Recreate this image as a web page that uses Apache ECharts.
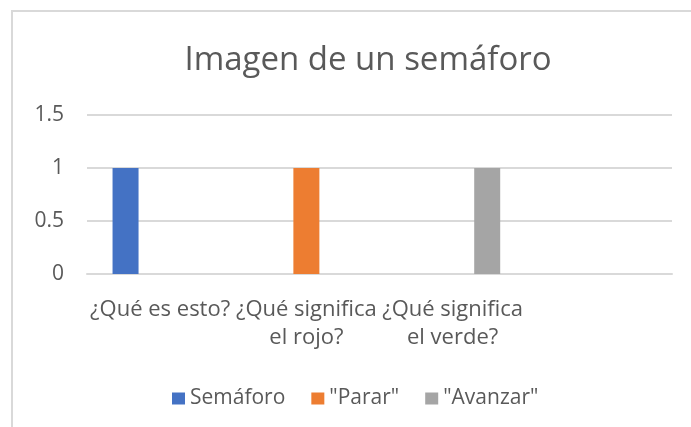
<!DOCTYPE html>
<html>
<head>
<meta charset="utf-8">
<script src="https://cdn.jsdelivr.net/npm/echarts@6/dist/echarts.min.js"></script>
<style>
  html, body { margin: 0; padding: 0; background: #fff; overflow: hidden; }
  #frame { position: absolute; left: 11px; top: 10px; width: 720px; height: 460px;
           border-top: 2px solid #d9d9d9; border-left: 2px solid #d9d9d9; }
  #chart { position: absolute; left: 0; top: 0; width: 691px; height: 427px; }
</style>
</head>
<body>
<div id="frame"></div>
<div id="chart"></div>
<script>
// datos del gráfico
var categorias = ['¿Qué es esto?', '¿Qué significa\nel rojo?', '¿Qué significa\nel verde?', ''];
var semaforo = [1, null, null, null];
var parar = [null, 1, null, null];
var avanzar = [null, null, 1, null];
var yTicks = [0, 0.5, 1, 1.5];

var texto = '#595959';
var fuente = 'Open Sans';

var myChart = echarts.init(document.getElementById('chart'), null, { renderer: 'canvas' });

var option = {
    backgroundColor: 'transparent',
    textStyle: { fontFamily: fuente },
    title: {
        text: 'Imagen de un semáforo',
        left: 363,
        textAlign: 'center',
        top: 39,
        textStyle: { fontFamily: fuente, fontSize: 33, fontWeight: 'normal', color: texto }
    },
    legend: {
        data: ['Semáforo', '"Parar"', '"Avanzar"'],
        left: 167,
        top: 383,
        icon: 'rect',
        itemWidth: 13,
        itemHeight: 12,
        itemGap: 26,
        textStyle: { fontFamily: fuente, fontSize: 21, color: texto, padding: [0, 0, 0, 0] }
    },
    grid: { left: 87, right: 19, top: 115, bottom: 153, containLabel: false },
    xAxis: {
        type: 'category',
        data: categorias,
        axisTick: { show: false },
        axisLine: { lineStyle: { color: '#d9d9d9', width: 2 } },
        axisLabel: {
            interval: 0, margin: 22, color: texto, fontFamily: fuente,
            fontSize: 22, lineHeight: 28, align: 'center'
        }
    },
    yAxis: {
        type: 'value',
        min: yTicks[0],
        max: yTicks[yTicks.length - 1],
        interval: 0.5,
        axisLine: { show: false },
        axisTick: { show: false },
        splitLine: { lineStyle: { color: '#d9d9d9', width: 2 } },
        axisLabel: { margin: 23, color: texto, fontFamily: fuente, fontSize: 21 }
    },
    series: [
        { name: 'Semáforo', type: 'bar', data: semaforo, barWidth: 26, barGap: '33%',
          itemStyle: { color: '#4472C4' } },
        { name: '"Parar"', type: 'bar', data: parar, barWidth: 26, barGap: '33%',
          itemStyle: { color: '#ED7D31' } },
        { name: '"Avanzar"', type: 'bar', data: avanzar, barWidth: 26, barGap: '33%',
          itemStyle: { color: '#A5A5A5' } }
    ]
};

myChart.setOption(option);
</script>
</body>
</html>
